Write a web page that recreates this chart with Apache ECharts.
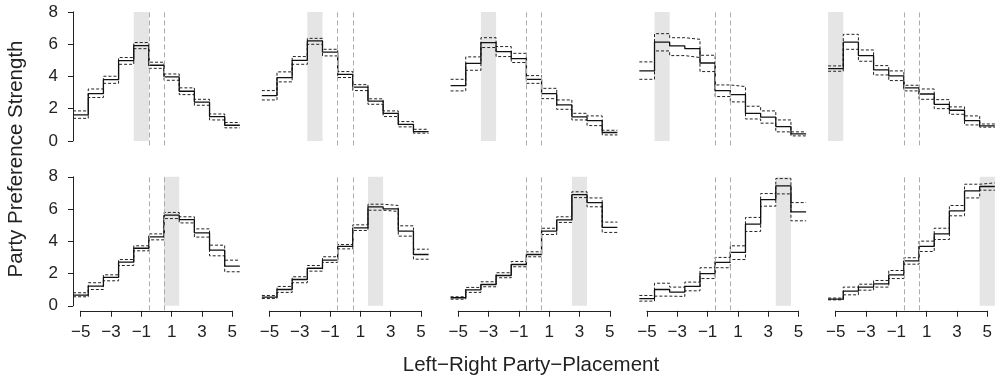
<!DOCTYPE html>
<html>
<head>
<meta charset="utf-8">
<script src="https://cdn.jsdelivr.net/npm/echarts@6/dist/echarts.min.js"></script>
<style>html,body{margin:0;padding:0;background:#fff}#c{width:1000px;height:382px}</style>
</head>
<body>
<div id="c"></div>
<script>
// ---- data ----
const xValues = [-5, -4, -3, -2, -1, 0, 1, 2, 3, 4, 5];
const xTickLabels = ['\u22125', '\u22123', '\u22121', '1', '3', '5'];
const yTickLabels = ['0', '2', '4', '6', '8'];
const voterPositions = [-1, -2, -3, -4, -5, 1, 2, 3, 4, 5];
const referenceLines = [-0.5, 0.5];

const p1Mean = [1.61, 2.93, 3.80, 4.98, 5.91, 4.69, 3.97, 3.08, 2.40, 1.51, 0.97];
const p1Low  = [1.40, 2.69, 3.57, 4.75, 5.72, 4.50, 3.76, 2.87, 2.21, 1.30, 0.81];
const p1High = [1.86, 3.22, 4.01, 5.17, 6.10, 4.88, 4.15, 3.29, 2.58, 1.67, 1.14];

const p2Mean = [2.81, 3.93, 5.00, 6.20, 5.50, 4.13, 3.33, 2.47, 1.71, 1.03, 0.58];
const p2Low  = [2.54, 3.66, 4.75, 5.99, 5.27, 3.93, 3.12, 2.27, 1.51, 0.87, 0.48];
const p2High = [3.12, 4.28, 5.23, 6.36, 5.68, 4.30, 3.49, 2.61, 1.86, 1.20, 0.72];

const p3Mean = [3.43, 4.81, 6.10, 5.54, 5.10, 3.82, 2.93, 2.23, 1.49, 1.26, 0.52];
const p3Low  = [3.10, 4.38, 5.79, 5.23, 4.86, 3.57, 2.62, 1.96, 1.30, 0.95, 0.37];
const p3High = [3.82, 5.21, 6.40, 5.85, 5.43, 4.05, 3.26, 2.54, 1.71, 1.55, 0.66];

const p4Mean = [4.34, 6.12, 5.89, 5.72, 4.83, 3.12, 2.87, 1.71, 1.47, 0.89, 0.43];
const p4Low  = [3.82, 5.58, 5.29, 5.17, 4.30, 2.75, 2.42, 1.36, 1.10, 0.56, 0.31];
const p4High = [4.90, 6.65, 6.40, 6.30, 5.31, 3.47, 3.37, 2.15, 1.86, 1.30, 0.56];

const p5Mean = [4.48, 6.12, 5.29, 4.40, 4.03, 3.29, 2.91, 2.27, 1.90, 1.26, 0.93];
const p5Low  = [4.32, 5.68, 4.94, 4.09, 3.74, 3.10, 2.58, 2.00, 1.65, 0.99, 0.85];
const p5High = [4.65, 6.61, 5.64, 4.67, 4.34, 3.45, 3.22, 2.56, 2.11, 1.55, 1.05];

const p6Mean = [0.66, 1.22, 1.76, 2.71, 3.57, 4.28, 5.62, 5.35, 4.52, 3.45, 2.46];
const p6Low  = [0.56, 1.01, 1.55, 2.50, 3.41, 4.09, 5.41, 5.14, 4.26, 3.10, 2.11];
const p6High = [0.81, 1.43, 1.92, 2.87, 3.72, 4.46, 5.79, 5.52, 4.77, 3.76, 2.83];

const p7Mean = [0.54, 1.01, 1.63, 2.33, 2.83, 3.68, 4.83, 6.14, 6.01, 4.63, 3.18];
const p7Low  = [0.45, 0.83, 1.43, 2.15, 2.69, 3.53, 4.67, 5.93, 5.85, 4.32, 2.89];
const p7High = [0.64, 1.20, 1.80, 2.50, 3.04, 3.80, 5.02, 6.30, 6.22, 4.96, 3.51];

const p8Mean = [0.50, 0.99, 1.32, 1.88, 2.56, 3.18, 4.63, 5.33, 6.90, 6.40, 4.86];
const p8Low  = [0.41, 0.83, 1.18, 1.74, 2.42, 3.04, 4.42, 5.17, 6.71, 6.14, 4.55];
const p8High = [0.56, 1.14, 1.49, 2.05, 2.75, 3.35, 4.81, 5.52, 7.07, 6.69, 5.19];

const p9Mean = [0.45, 1.01, 0.85, 1.20, 2.00, 2.69, 3.31, 5.06, 6.59, 7.44, 5.83];
const p9Low  = [0.29, 0.60, 0.58, 0.93, 1.69, 2.36, 2.87, 4.61, 6.18, 6.94, 5.27];
const p9High = [0.64, 1.40, 1.16, 1.47, 2.36, 3.00, 3.72, 5.48, 6.96, 7.89, 6.40];

const p10Mean = [0.41, 0.91, 1.16, 1.36, 1.92, 2.79, 3.68, 4.46, 5.89, 7.13, 7.40];
const p10Low  = [0.37, 0.68, 0.97, 1.16, 1.69, 2.58, 3.37, 4.11, 5.58, 6.69, 7.17];
const p10High = [0.48, 1.16, 1.34, 1.57, 2.19, 2.98, 4.01, 4.81, 6.22, 7.54, 7.62];

const panels = [
  [p1Mean, p1Low, p1High], [p2Mean, p2Low, p2High], [p3Mean, p3Low, p3High],
  [p4Mean, p4Low, p4High], [p5Mean, p5Low, p5High], [p6Mean, p6Low, p6High],
  [p7Mean, p7Low, p7High], [p8Mean, p8Low, p8High], [p9Mean, p9Low, p9High],
  [p10Mean, p10Low, p10High]
];

// ---- layout ----
const FONT = 'Liberation Sans, Arial, Helvetica, sans-serif';
const unitX = 15.16;
const unitY = 16.125;
const colStep = 188.75;
const firstLeft = 73.1;          // pixel of x = -5.5 in column 0
const zeroY = [140.9, 305.8];    // pixel of y = 0 in each row
const yMinData = -0.28, yMaxData = 8.05;

function stepData(vals) {
  const d = vals.map((v, i) => [xValues[i] - 0.5, v]);
  d.push([xValues[xValues.length - 1] + 0.5, vals[vals.length - 1]]);
  return d;
}

const grid = [], xAxis = [], yAxis = [], series = [];
let gi = 0;

panels.forEach((p, k) => {
  const row = Math.floor(k / 5), col = k % 5;
  const left = firstLeft + col * colStep;
  const top = zeroY[row] - yMaxData * unitY;
  grid.push({ left: left, top: top, width: 11 * unitX, height: (yMaxData - yMinData) * unitY });
  xAxis.push({ gridIndex: gi, type: 'value', min: -5.5, max: 5.5, show: false });
  yAxis.push({ gridIndex: gi, type: 'value', min: yMinData, max: yMaxData, show: false });
  const pos = voterPositions[k];
  series.push({
    type: 'line', xAxisIndex: gi, yAxisIndex: gi, data: [], z: 1, silent: true,
    markArea: {
      silent: true,
      itemStyle: { color: '#e5e5e5' },
      data: [[{ xAxis: pos - 0.5, yAxis: 0 }, { xAxis: pos + 0.5, yAxis: 8 }]]
    },
    markLine: {
      silent: true, symbol: 'none', label: { show: false },
      lineStyle: { color: '#ababab', type: [5, 3], width: 1 },
      data: referenceLines.map(v => ({ xAxis: v }))
    }
  });
  const [m, lo, hi] = p;
  [[lo, true], [hi, true], [m, false]].forEach(([vals, dashed]) => {
    series.push({
      type: 'line', xAxisIndex: gi, yAxisIndex: gi, step: 'end',
      data: stepData(vals), symbol: 'none', z: 3, silent: true,
      lineStyle: dashed ? { color: '#222', width: 1, type: [3, 2] } : { color: '#111', width: 1.3 }
    });
  });
  gi++;
});

// y axes (column 0 only)
[0, 1].forEach(row => {
  grid.push({ left: 73, top: zeroY[row] - 8 * unitY, width: 10, height: 8 * unitY });
  xAxis.push({ gridIndex: gi, type: 'value', show: false, min: 0, max: 1 });
  yAxis.push({
    gridIndex: gi, type: 'value', min: 0, max: 8, interval: 2, position: 'left',
    axisLine: { show: true, lineStyle: { color: '#222', width: 1 } },
    axisTick: { show: true, length: 5, inside: false, lineStyle: { color: '#222', width: 1 } },
    axisLabel: { show: true, margin: 15, fontSize: 17, color: '#222', fontFamily: FONT,
      formatter: v => yTickLabels[Math.round(v / 2)] },
    splitLine: { show: false }
  });
  gi++;
});

// x axes (bottom row only)
for (let col = 0; col < 5; col++) {
  const left = firstLeft + col * colStep + 0.5 * unitX;
  grid.push({ left: left, top: 300, width: 10 * unitX, height: 10.8 });
  xAxis.push({
    gridIndex: gi, type: 'value', min: -5, max: 5, interval: 2, position: 'bottom',
    axisLine: { show: true, onZero: false, lineStyle: { color: '#222', width: 1 } },
    axisTick: { show: true, length: 6, inside: false, lineStyle: { color: '#222', width: 1 } },
    axisLabel: { show: true, margin: 13, fontSize: 17, color: '#222', fontFamily: FONT,
      formatter: v => xTickLabels[Math.round((v + 5) / 2)] },
    splitLine: { show: false }
  });
  yAxis.push({ gridIndex: gi, type: 'value', show: false, min: 0, max: 1 });
  gi++;
}

const chart = echarts.init(document.getElementById('c'), null, { renderer: 'canvas' });
chart.setOption({
  animation: false,
  backgroundColor: '#fff',
  grid, xAxis, yAxis, series,
  graphic: [
    { type: 'text', x: 531, y: 365, style: { text: 'Left\u2212Right Party\u2212Placement', font: '20.5px ' + FONT, fill: '#222', textAlign: 'center', textVerticalAlign: 'middle' } },
    { type: 'text', x: 16, y: 159, rotation: Math.PI / 2, style: { text: 'Party Preference Strength', font: '20.5px ' + FONT, fill: '#222', textAlign: 'center', textVerticalAlign: 'middle' } }
  ]
});
</script>
</body>
</html>
